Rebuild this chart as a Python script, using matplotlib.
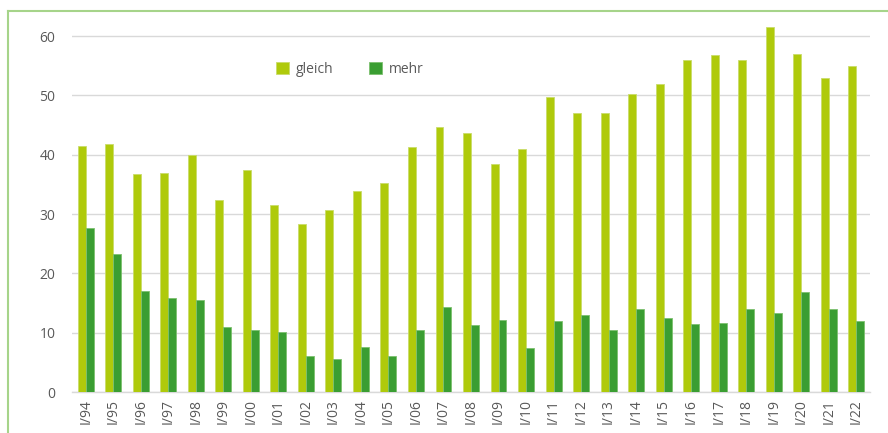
import numpy as np
import matplotlib.pyplot as plt
from matplotlib.lines import Line2D

plt.rcParams['font.family'] = ['Open Sans', 'DejaVu Sans']

labels = ['I/94', 'I/95', 'I/96', 'I/97', 'I/98', 'I/99', 'I/00', 'I/01', 'I/02', 'I/03',
          'I/04', 'I/05', 'I/06', 'I/07', 'I/08', 'I/09', 'I/10', 'I/11', 'I/12', 'I/13',
          'I/14', 'I/15', 'I/16', 'I/17', 'I/18', 'I/19', 'I/20', 'I/21', 'I/22']
gleich = [41.5, 41.8, 36.8, 37.0, 40.0, 32.4, 37.5, 31.6, 28.3, 30.6,
          33.9, 35.3, 41.3, 44.6, 43.6, 38.5, 40.9, 49.7, 47.0, 47.0,
          50.3, 51.9, 55.9, 56.8, 56.0, 61.6, 56.9, 52.9, 54.9]
mehr = [27.6, 23.2, 17.1, 15.8, 15.5, 10.9, 10.5, 10.1, 6.1, 5.5,
        7.6, 6.0, 10.5, 14.4, 11.3, 12.1, 7.4, 12.0, 13.0, 10.5,
        14.0, 12.4, 11.4, 11.7, 14.0, 13.4, 16.9, 14.0, 11.9]

c_gleich = '#afca0b'
c_mehr = '#3a9e32'
txt = '#595959'

fig = plt.figure(figsize=(8.88, 4.33), dpi=100)
ax = fig.add_axes([72/888, 41/433, 798/888, 0.8494])

x = np.arange(len(labels))
w = 0.29
ax.bar(x - w/2, gleich, w, color=c_gleich, edgecolor='#c9dc6a', linewidth=0.6, label='gleich', zorder=3)
ax.bar(x + w/2, mehr, w, color=c_mehr, edgecolor='#7cc06f', linewidth=0.6, label='mehr', zorder=3)

ax.set_xlim(-0.5, len(labels) - 0.5)
ax.set_ylim(0, 62)
ax.set_yticks([0, 10, 20, 30, 40, 50, 60])
ax.grid(axis='y', color='#d9d9d9', linewidth=1, zorder=0)
ax.set_xticks(x)
ax.set_xticklabels(labels, rotation=90)
ax.tick_params(axis='both', length=0, colors=txt, labelsize=10)
ax.tick_params(axis='y', pad=12)
ax.tick_params(axis='x', pad=5)
for s in ['top', 'right', 'left']:
    ax.spines[s].set_visible(False)
ax.spines['bottom'].set_color('#d9d9d9')
ax.spines['bottom'].set_linewidth(1)

leg = ax.legend(loc='center left', bbox_to_anchor=(0.24, 0.878), ncol=2, frameon=False,
                fontsize=10, handlelength=0.9, handleheight=0.9, handletextpad=0.5,
                columnspacing=2.6)
for t in leg.get_texts():
    t.set_color(txt)

# green frame (top and left edge)
fig.add_artist(Line2D([8/888, 1], [1 - 11/433, 1 - 11/433], color='#a6d48a', linewidth=1.5))
fig.add_artist(Line2D([8/888, 8/888], [0, 1 - 11/433], color='#a6d48a', linewidth=1.5))

fig.savefig('out.png', dpi=100)
